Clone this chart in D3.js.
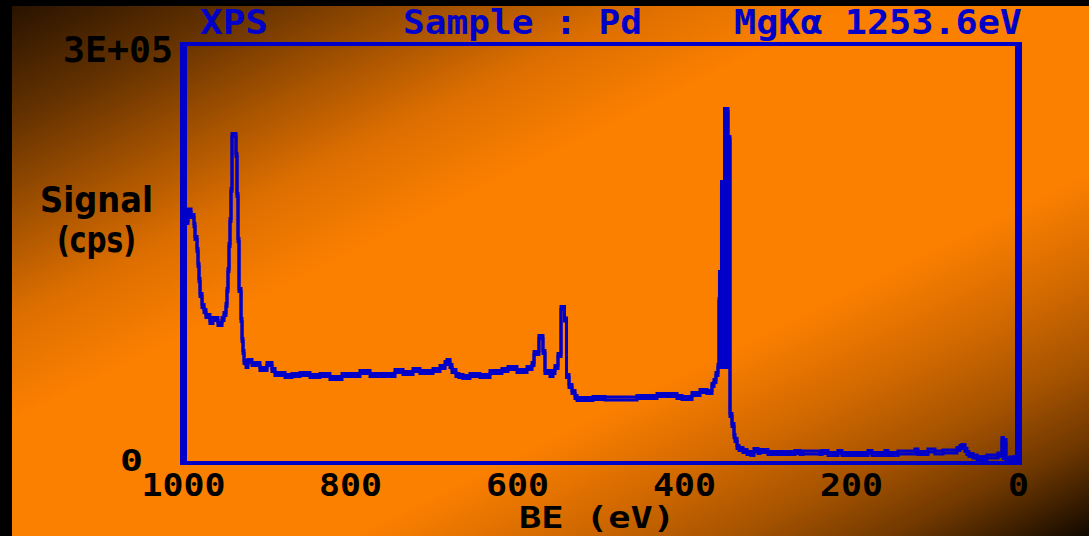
<!DOCTYPE html>
<html><head><meta charset="utf-8">
<script src="https://cdn.jsdelivr.net/npm/d3@7"></script>
<style>html,body{margin:0;padding:0;background:#000;overflow:hidden}</style>
</head><body><svg id="c" width="1089" height="536"></svg>
<script>
// ---- data ----
const titleParts = ["XPS", "Sample : Pd", "MgK\u03b1 1253.6eV"];
const xTicks = [1000, 800, 600, 400, 200, 0];
const xTickLabels = ["1000", "800", "600", "400", "200", "0"];
const yTicks = [300000, 0];
const yTickLabels = ["3E+05", "0"];
const xTitle = "BE (eV)";
const yTitle = ["Signal", "(cps)"];

const be = [998.2, 994.6, 991.0, 987.4, 986.2, 983.8, 982.6, 981.4, 980.2, 977.8,
  975.4, 973.1, 968.3, 964.7, 958.7, 953.9, 951.5, 949.1, 947.9, 946.7,
  945.5, 944.3, 943.1, 941.9, 937.1, 935.9, 934.7, 933.5, 931.1, 929.9,
  928.7, 927.5, 925.1, 922.8, 918.0, 908.4, 900.0, 894.0, 890.4, 878.4,
  870.1, 860.5, 848.5, 836.5, 824.6, 810.2, 788.6, 776.6, 746.7, 737.1,
  725.1, 716.8, 701.2, 692.8, 686.8, 684.4, 680.8, 678.4, 673.7, 670.1,
  665.3, 656.9, 644.9, 632.9, 618.6, 611.4, 600.6, 588.6, 582.6, 580.2,
  574.3, 569.5, 567.1, 561.1, 557.5, 555.1, 551.5, 547.9, 543.7, 541.3,
  538.3, 534.7, 531.1, 528.7, 509.6, 495.2, 456.9, 432.9, 409.0, 403.0,
  391.0, 381.4, 373.1, 367.1, 364.7, 362.3, 359.9,
  358.7, 358.1, 357.5, 356.9, 356.3, 355.7, 355.1, 354.5, 353.9, 353.3,
  352.7, 352.1, 351.5, 350.9, 350.3, 349.7, 349.1, 348.5, 347.9, 347.3,
  346.7, 346.1, 345.5,
  343.1, 340.7, 339.5, 337.1, 334.7, 329.9, 325.1, 320.4, 316.8, 312.0,
  309.6, 300.0, 267.7, 261.7, 258.1, 237.7, 235.3, 228.1, 216.2, 211.4,
  180.2, 175.4, 159.9, 156.3, 144.3, 124.0, 120.4, 108.4, 100.0, 90.4,
  73.7, 70.1, 67.7, 64.1, 61.7, 59.3, 54.5, 49.7, 37.7, 24.6,
  22.2, 19.8, 18.0, 16.8, 15.0, 10.2, 5.4, 4.2];

const cps = [172600, 180800, 176900, 170400, 161100, 152500, 141800, 131000, 120300, 112400,
  108800, 105300, 101000, 103100, 99500, 103100, 106700, 113100, 123900, 138200,
  156100, 174000, 195500, 234800, 220500, 191900, 159700, 123900, 102400, 88100,
  79500, 72300, 69500, 73000, 70900, 67300, 70900, 66600, 63700, 62300,
  63000, 63700, 62300, 63000, 60900, 63000, 65200, 63000, 65900, 64400,
  66600, 65200, 66600, 68700, 71600, 73000, 69500, 65900, 63000, 62300,
  61600, 63000, 62300, 65200, 66600, 68000, 65900, 68000, 70900, 78800,
  90200, 79500, 65200, 63000, 65200, 68700, 77300, 111000, 102700, 62300,
  55100, 50800, 47300, 45800, 46500, 46200, 47300, 48700, 47300, 46500,
  49400, 51600, 50800, 55800, 58700, 63700, 69500,
  116700, 136000, 69500, 136000, 69500, 200500, 69500, 200500, 69500, 200500,
  69500, 252700, 69500, 252700, 69500, 252700, 69500, 252700, 69500, 232700,
  69500, 232700, 34400,
  27200, 19300, 16500, 11500, 10000, 8600, 7200, 6400, 9300, 7900,
  8600, 7200, 7900, 7200, 7500, 7200, 7900, 6400, 7900, 6400,
  7900, 6400, 7900, 6400, 7500, 9000, 7200, 9000, 7500, 8200,
  10000, 11500, 12200, 9300, 7200, 5700, 4700, 3600, 4700, 6100,
  5700, 17200, 4300, 15800, 2500, 3200, 3600, 3600];

// ---- layout ----
const W = 1089, H = 536;
const BLUE = "#0000c8";
const MONO = "'DejaVu Sans Mono', monospace";
const SANS = "'DejaVu Sans', sans-serif";

const svg = d3.select("#c");
const defs = svg.append("defs");
// gradient whose iso-lines run parallel to the anti-diagonal (bottom-left -> top-right)
const t = 2 / (H / W + W / H);
const grad = defs.append("linearGradient").attr("id", "bg")
  .attr("gradientUnits", "userSpaceOnUse")
  .attr("x1", 0).attr("y1", 0).attr("x2", H * t).attr("y2", W * t);
[[0, "#221000"], [0.12, "#653200"], [0.22, "#a85400"], [0.30, "#dc6e00"], [0.40, "#fc8000"],
 [0.66, "#fc8000"], [0.76, "#d06800"], [0.84, "#a45200"], [0.91, "#703800"], [0.96, "#3c1e00"], [1, "#100800"]]
  .forEach(([o, c]) => grad.append("stop").attr("offset", o).attr("stop-color", c));

svg.append("rect").attr("width", W).attr("height", H).attr("fill", "url(#bg)");
svg.append("rect").attr("width", 12).attr("height", H).attr("fill", "#000");
svg.append("rect").attr("width", W).attr("height", 6).attr("fill", "#000");

const x = d3.scaleLinear().domain([1000, 0]).range([183.5, 1018.5]);
const y = d3.scaleLinear().domain([0, 300000]).range([463, 44]);

// spectrum (drawn twice, vertically offset, to mimic the thick horizontal strokes)
const line = d3.line().x((d, i) => x(be[i])).y((d, i) => y(cps[i])).curve(d3.curveStepAfter);
[-1.5, 1.5].forEach(dy => {
  svg.append("path").datum(cps).attr("d", line)
    .attr("transform", `translate(0,${dy})`)
    .attr("fill", "none").attr("stroke", BLUE).attr("stroke-width", 3);
});

// frame
const [x0, x1] = x.range(), [y0, y1] = y.range();
svg.append("rect").attr("x", x0 - 3.5).attr("y", y1 - 2).attr("width", 7).attr("height", y0 - y1 + 4).attr("fill", BLUE);
svg.append("rect").attr("x", x1 - 3.5).attr("y", y1 - 2).attr("width", 7).attr("height", y0 - y1 + 4).attr("fill", BLUE);
svg.append("rect").attr("x", x0 - 3.5).attr("y", y1 - 2).attr("width", x1 - x0 + 7).attr("height", 4).attr("fill", BLUE);
svg.append("rect").attr("x", x0 - 3.5).attr("y", y0 - 2).attr("width", x1 - x0 + 7).attr("height", 4).attr("fill", BLUE);

// title
const titleX = [200, 403, 734], titleW = [68, 239, 288];
titleParts.forEach((s, i) => {
  svg.append("text").text(s).attr("x", titleX[i]).attr("y", 34)
    .attr("font-family", MONO).attr("font-weight", "bold").attr("font-size", 33)
    .attr("textLength", titleW[i]).attr("lengthAdjust", "spacingAndGlyphs")
    .attr("fill", BLUE);
});

// x tick labels
xTicks.forEach((v, i) => {
  const s = xTickLabels[i];
  svg.append("text").text(s).attr("x", x(v)).attr("y", 496)
    .attr("text-anchor", "middle")
    .attr("font-family", MONO).attr("font-weight", "bold").attr("font-size", 32)
    .attr("textLength", s.length * 21).attr("lengthAdjust", "spacingAndGlyphs")
    .attr("fill", "#000");
});

// y tick labels
yTicks.forEach((v, i) => {
  const s = yTickLabels[i];
  const top = v === d3.max(yTicks);
  svg.append("text").text(s)
    .attr("x", top ? 173 : 143)
    .attr("y", y(v) + (top ? 18 : 8))
    .attr("text-anchor", "end")
    .attr("font-family", MONO).attr("font-weight", "bold").attr("font-size", top ? 35 : 30)
    .attr("textLength", top ? 110 : 23).attr("lengthAdjust", "spacingAndGlyphs")
    .attr("fill", "#000");
});

// axis titles
svg.append("text").text(xTitle).attr("x", 597).attr("y", 528).attr("text-anchor", "middle")
  .attr("font-family", MONO).attr("font-weight", "bold").attr("font-size", 31)
  .attr("textLength", 156).attr("lengthAdjust", "spacingAndGlyphs").attr("fill", "#000");
svg.append("text").text(yTitle[0]).attr("x", 40).attr("y", 212)
  .attr("font-family", SANS).attr("font-weight", "bold").attr("font-size", 35)
  .attr("textLength", 113).attr("lengthAdjust", "spacingAndGlyphs").attr("fill", "#000");
svg.append("text").text(yTitle[1]).attr("x", 57).attr("y", 252)
  .attr("font-family", SANS).attr("font-weight", "bold").attr("font-size", 35)
  .attr("textLength", 79).attr("lengthAdjust", "spacingAndGlyphs").attr("fill", "#000");
</script>
</body></html>
